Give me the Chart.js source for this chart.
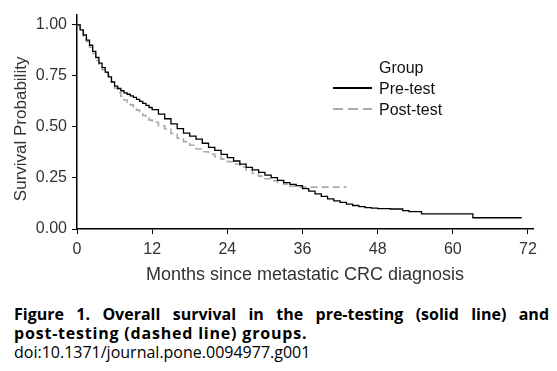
<!DOCTYPE html>
<html lang="en">
<head>
<meta charset="UTF-8">
<title>Overall survival</title>
<script src="https://cdn.jsdelivr.net/npm/chart.js"></script>
<style>
  body { margin: 0; background: #fff; width: 557px; height: 371px; overflow: hidden; position: relative; }
  #wrap { position: absolute; left: 0; top: 0; width: 557px; height: 290px; }
  #caption { position: absolute; left: 14px; top: 305px; width: 535px; font-family: 'Open Sans', sans-serif; font-size: 16px; line-height: 19px; color: #000; }
  #caption .title { font-weight: bold; white-space: nowrap; letter-spacing: 0.8px; }
  #caption .first { text-align: justify; text-align-last: justify; white-space: normal; letter-spacing: 0; }
</style>
</head>
<body>
<div id="wrap"><canvas id="km" width="557" height="290"></canvas></div>
<div id="caption">
  <div class="title first">Figure 1. Overall survival in the pre-testing (solid line) and</div>
  <div class="title">post-testing (dashed line) groups.</div>
  <div>doi:10.1371/journal.pone.0094977.g001</div>
</div>
<script>
// Kaplan-Meier estimates (months, survival probability)
const preMonths = [0, 0.5, 1, 1.5, 2, 2.5, 3, 3.5, 4, 4.5, 5, 5.5, 6, 6.5, 7, 7.5, 8, 8.5, 9, 9.5, 10, 10.5, 11, 11.5,
  12, 13, 14, 15, 16, 17, 18, 19, 20, 21, 22, 23, 24, 25, 26, 27, 28, 29, 30, 31, 32, 33, 34, 35,
  36, 37, 38, 39, 40, 41, 42, 43, 44, 45, 46, 47, 48, 50, 52, 53, 55, 63.2, 71];
const preSurv = [1.0, 0.975, 0.95, 0.925, 0.9, 0.87, 0.84, 0.812, 0.79, 0.768, 0.745, 0.72, 0.7, 0.688, 0.677, 0.667, 0.66, 0.652, 0.645, 0.635, 0.625, 0.615, 0.605, 0.595,
  0.585, 0.563, 0.54, 0.515, 0.492, 0.47, 0.455, 0.44, 0.42, 0.4, 0.385, 0.365, 0.35, 0.333, 0.318, 0.302, 0.29, 0.277, 0.264, 0.252, 0.238, 0.227, 0.219, 0.212,
  0.198, 0.185, 0.172, 0.16, 0.148, 0.138, 0.13, 0.122, 0.115, 0.11, 0.105, 0.102, 0.1, 0.098, 0.09, 0.085, 0.074, 0.055, 0.055];

const postMonths = [0, 0.5, 1, 1.5, 2, 2.5, 3, 3.5, 4, 4.5, 5, 5.5, 6, 6.5, 7, 7.5, 8, 8.5, 9, 9.5, 10, 10.5, 11, 11.5,
  12, 13, 14, 15, 16, 17, 18, 19, 20, 21, 22, 23, 24, 25, 26, 27, 28, 29, 30, 31, 32, 33, 34, 35, 43];
const postSurv = [1.0, 0.972, 0.945, 0.918, 0.89, 0.86, 0.825, 0.8, 0.78, 0.765, 0.75, 0.72, 0.69, 0.668, 0.65, 0.632, 0.62, 0.608, 0.595, 0.582, 0.569, 0.556, 0.544, 0.533,
  0.523, 0.505, 0.49, 0.468, 0.445, 0.428, 0.41, 0.392, 0.378, 0.366, 0.354, 0.342, 0.33, 0.318, 0.304, 0.288, 0.272, 0.259, 0.246, 0.236, 0.228, 0.22, 0.21, 0.205, 0.205];

const xTicks = [0, 12, 24, 36, 48, 60, 72];
const yTicks = [0, 0.25, 0.5, 0.75, 1.0];
const seriesNames = ['Pre-test', 'Post-test'];
const legendTitle = 'Group';

const toPoints = (xs, ys) => xs.map((x, i) => ({ x: x, y: ys[i] }));
const sans = 'Liberation Sans, Arial, sans-serif';

// legend drawn inside the plot, like the original figure
const groupLegend = {
  id: 'groupLegend',
  afterDraw(chart) {
    const ctx = chart.ctx;
    ctx.save();
    ctx.font = '16px ' + sans;
    ctx.fillStyle = '#111';
    ctx.fillText(legendTitle, 379, 73);
    chart.data.datasets.forEach((ds, i) => {
      const y = 88 + i * 21;
      ctx.strokeStyle = ds.borderColor;
      ctx.lineWidth = 2.2;
      ctx.setLineDash(i === 0 ? [] : [10, 5]);
      ctx.beginPath();
      ctx.moveTo(333, y);
      ctx.lineTo(372, y);
      ctx.stroke();
      ctx.setLineDash([]);
      ctx.fillText(ds.label, 379, y + 6);
    });
    ctx.restore();
  }
};

new Chart(document.getElementById('km'), {
  type: 'line',
  data: {
    datasets: [{
      label: seriesNames[0],
      data: toPoints(preMonths, preSurv),
      borderColor: '#000',
      borderWidth: 1.3,
      stepped: true,
      pointRadius: 0
    }, {
      label: seriesNames[1],
      data: toPoints(postMonths, postSurv),
      borderColor: '#aaaaaa',
      borderWidth: 1.6,
      borderDash: [7, 4],
      stepped: true,
      pointRadius: 0
    }]
  },
  options: {
    responsive: false,
    animation: false,
    layout: { padding: { left: 0, top: 8, right: 24, bottom: 0 } },
    plugins: { legend: { display: false }, tooltip: { enabled: false } },
    scales: {
      x: {
        type: 'linear',
        min: 0,
        max: 72.8,
        afterBuildTicks: s => { s.ticks = xTicks.map(v => ({ value: v })); },
        afterFit: s => { s.height = 61; },
        ticks: { font: { family: sans, size: 16 }, color: '#333', padding: 6, maxRotation: 0 },
        grid: { drawOnChartArea: false, tickLength: 5, color: '#000', lineWidth: 1 },
        border: { color: '#000', width: 1.5 },
        title: { display: true, text: 'Months since metastatic CRC diagnosis', font: { family: sans, size: 18 }, color: '#333', padding: { top: 0 } }
      },
      y: {
        min: 0,
        max: 1.05,
        afterBuildTicks: s => { s.ticks = yTicks.map(v => ({ value: v })); },
        afterFit: s => { s.width = 77; },
        ticks: { font: { family: sans, size: 16 }, color: '#333', padding: 5, callback: v => v.toFixed(2) },
        grid: { drawOnChartArea: false, tickLength: 5, color: '#000', lineWidth: 1 },
        border: { color: '#000', width: 1.5 },
        title: { display: true, text: 'Survival Probability\u00a0\u00a0\u00a0', font: { family: sans, size: 17 }, color: '#333', padding: { top: 11 } }
      }
    }
  },
  plugins: [groupLegend]
});
</script>
</body>
</html>
